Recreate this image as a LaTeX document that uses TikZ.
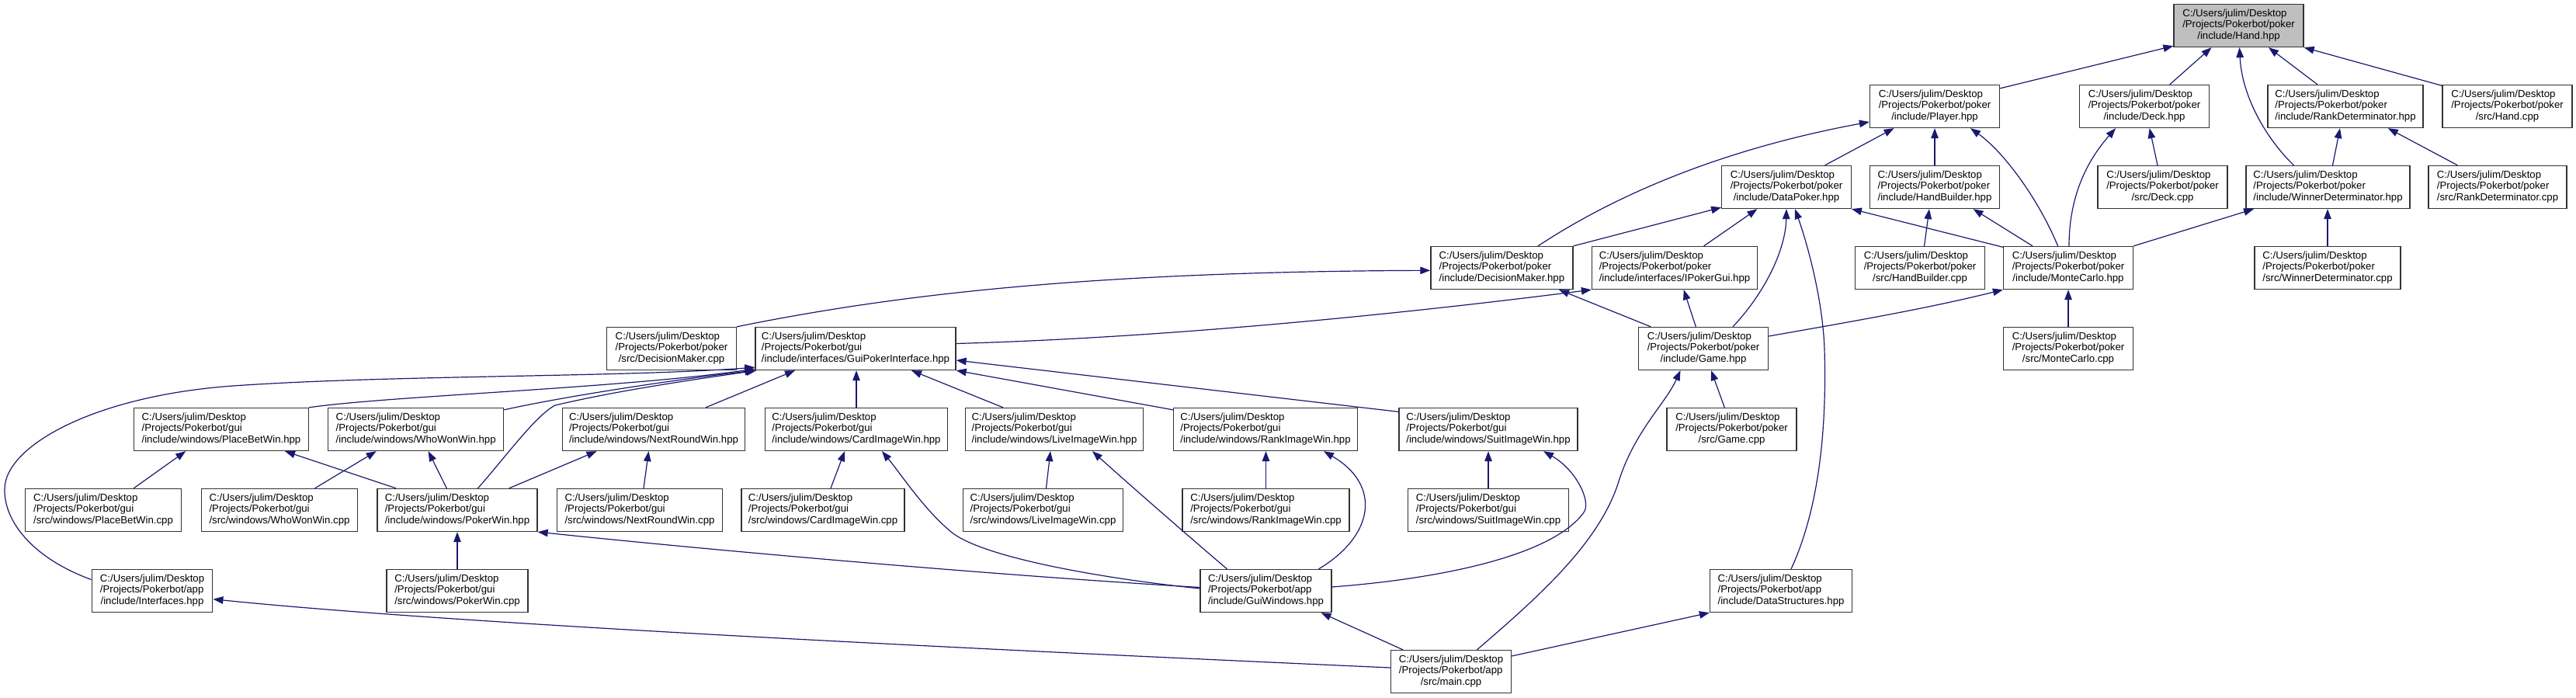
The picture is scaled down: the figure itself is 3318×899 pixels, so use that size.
\documentclass[tikz,border=0pt]{standalone}
\usepackage{fontspec}
\setmainfont{Liberation Sans}
\usetikzlibrary{arrows.meta,calc}
\definecolor{edgec}{HTML}{191970}
\definecolor{handgray}{HTML}{BFBFBF}
\newcommand{\lbfont}{\fontsize{13.2}{14.7}\selectfont}
\newcommand{\lb}[2]{\begin{tabular}{@{}l@{}}C:/Users/julim/Desktop\\/Projects/Pokerbot/#1\\\multicolumn{1}{@{}c@{}}{#2}\end{tabular}}
\tikzset{
  filebox/.style={draw=black!80, line width=1.3pt, fill=white, inner xsep=4pt, inner ysep=0pt, minimum height=55pt, minimum width=#1, font=\lbfont},
  dep/.style={draw=edgec, line width=1.2pt, -{Triangle[length=13pt,width=9.5pt]}}
}
\begin{document}
\begin{tikzpicture}[x=1pt,y=-1pt]
\useasboundingbox (0,0) rectangle (3318,899);
% rank 0
\node[filebox=167pt, fill=handgray] (hand) at (2883.5,33) {\lb{poker}{/include/Hand.hpp}};
% rank 1
\node[filebox=167pt] (player) at (2492,137) {\lb{poker}{/include/Player.hpp}};
\node[filebox=167pt] (deck) at (2762,137) {\lb{poker}{/include/Deck.hpp}};
\node[filebox=200pt] (rankdet) at (3021,137) {\lb{poker}{/include/RankDeterminator.hpp}};
\node[filebox=167pt] (handcpp) at (3229.5,137) {\lb{poker}{/src/Hand.cpp}};
% rank 2
\node[filebox=166.5pt] (datapoker) at (2301,241) {\lb{poker}{/include/DataPoker.hpp}};
\node[filebox=167pt] (handbuilder) at (2492,241) {\lb{poker}{/include/HandBuilder.hpp}};
\node[filebox=167pt] (deckcpp) at (2785.5,241) {\lb{poker}{/src/Deck.cpp}};
\node[filebox=211pt] (winnerdet) at (2998.5,241) {\lb{poker}{/include/WinnerDeterminator.hpp}};
\node[filebox=178pt] (rankdetcpp) at (3217,241) {\lb{poker}{/src/RankDeterminator.cpp}};
% rank 3
\node[filebox=183pt] (decisionmaker) at (1934.4,345) {\lb{poker}{/include/DecisionMaker.hpp}};
\node[filebox=213pt] (ipokergui) at (2157,345) {\lb{poker}{/include/interfaces/IPokerGui.hpp}};
\node[filebox=167pt] (handbuildercpp) at (2473,345) {\lb{poker}{/src/HandBuilder.cpp}};
\node[filebox=167pt] (montecarlo) at (2664,345) {\lb{poker}{/include/MonteCarlo.hpp}};
\node[filebox=188pt] (winnerdetcpp) at (2998,345) {\lb{poker}{/src/WinnerDeterminator.cpp}};
% rank 4
\node[filebox=166.5pt] (decisionmakercpp) at (865,449) {\lb{poker}{/src/DecisionMaker.cpp}};
\node[filebox=258pt] (gpi) at (1102,449) {\lb{gui}{/include/interfaces/GuiPokerInterface.hpp}};
\node[filebox=167pt] (game) at (2194,449) {\lb{poker}{/include/Game.hpp}};
\node[filebox=167pt] (montecarlocpp) at (2664,449) {\lb{poker}{/src/MonteCarlo.cpp}};
% rank 5
\node[filebox=224.5pt] (placebet) at (285,553) {\lb{gui}{/include/windows/PlaceBetWin.hpp}};
\node[filebox=226pt] (whowon) at (535.7,553) {\lb{gui}{/include/windows/WhoWonWin.hpp}};
\node[filebox=235pt] (nextround) at (842,553) {\lb{gui}{/include/windows/NextRoundWin.hpp}};
\node[filebox=235pt] (cardimg) at (1103,553) {\lb{gui}{/include/windows/CardImageWin.hpp}};
\node[filebox=229pt] (liveimg) at (1358,553) {\lb{gui}{/include/windows/LiveImageWin.hpp}};
\node[filebox=237pt] (rankimg) at (1630,553) {\lb{gui}{/include/windows/RankImageWin.hpp}};
\node[filebox=230pt] (suitimg) at (1917,553) {\lb{gui}{/include/windows/SuitImageWin.hpp}};
\node[filebox=167pt] (gamecpp) at (2230.5,553) {\lb{poker}{/src/Game.cpp}};
% rank 6
\node[filebox=201.5pt] (placebetcpp) at (133,657) {\lb{gui}{/src/windows/PlaceBetWin.cpp}};
\node[filebox=201.5pt] (whowoncpp) at (360,657) {\lb{gui}{/src/windows/WhoWonWin.cpp}};
\node[filebox=206pt] (pokerwin) at (589,657) {\lb{gui}{/include/windows/PokerWin.hpp}};
\node[filebox=212.5pt] (nextroundcpp) at (824,657) {\lb{gui}{/src/windows/NextRoundWin.cpp}};
\node[filebox=210pt] (cardimgcpp) at (1060,657) {\lb{gui}{/src/windows/CardImageWin.cpp}};
\node[filebox=206pt] (liveimgcpp) at (1343.5,657) {\lb{gui}{/src/windows/LiveImageWin.cpp}};
\node[filebox=215pt] (rankimgcpp) at (1630.5,657) {\lb{gui}{/src/windows/RankImageWin.cpp}};
\node[filebox=206.6pt] (suitimgcpp) at (1917,657) {\lb{gui}{/src/windows/SuitImageWin.cpp}};
% rank 7
\node[filebox=155.6pt] (interfaces) at (196,761) {\lb{app}{/include/Interfaces.hpp}};
\node[filebox=182pt] (pokerwincpp) at (589,761) {\lb{gui}{/src/windows/PokerWin.cpp}};
\node[filebox=169pt] (guiwindows) at (1630.5,761) {\lb{app}{/include/GuiWindows.hpp}};
\node[filebox=183pt] (datastructures) at (2294,761) {\lb{app}{/include/DataStructures.hpp}};
% rank 8
\node[filebox=155pt] (main) at (1869,865) {\lb{app}{/src/main.cpp}};

% edges into Hand.hpp
\draw[dep] ([yshift=-5pt]player.north east) -- ([yshift=2pt]hand.south west);
\draw[dep] ([xshift=32.7pt]deck.north) -- ([xshift=-35pt]hand.south);
\draw[dep] ([xshift=-44pt]winnerdet.north) .. controls (2925,185) and (2888,130) .. ([xshift=1pt]hand.south);
\draw[dep] ([xshift=-36pt]rankdet.north) -- ([xshift=38.5pt]hand.south);
\draw[dep] ([yshift=-1.5pt]handcpp.north west) -- (hand.south east);
% into Player.hpp
\draw[dep] ([xshift=46.6pt]decisionmaker.north) .. controls (2090,245) and (2230,190) .. ([yshift=-20pt]player.west);
\draw[dep] ([xshift=49.6pt]datapoker.north) -- ([xshift=-52.4pt]player.south);
\draw[dep] (handbuilder.north) -- (player.south);
\draw[dep] ([xshift=-13.4pt]montecarlo.north) .. controls (2625,255) and (2580,195) .. ([xshift=46pt]player.south);
% into Deck.hpp
\draw[dep] ([xshift=1pt]montecarlo.north) .. controls (2665,250) and (2690,205) .. ([xshift=-37pt]deck.south);
\draw[dep] ([xshift=-6.5pt]deckcpp.north) -- ([xshift=6.7pt]deck.south);
% into RankDeterminator.hpp
\draw[dep] ([xshift=6pt]winnerdet.north) -- ([xshift=-7pt]rankdet.south);
\draw[dep] ([xshift=-51.6pt]rankdetcpp.north) -- ([xshift=54.8pt]rankdet.south);
% into DataPoker.hpp
\draw[dep] (decisionmaker.north east) -- ([yshift=2pt]datapoker.south west);
\draw[dep] ([xshift=37.6pt]ipokergui.north) -- ([xshift=-37.6pt]datapoker.south);
\draw[dep] ([xshift=38pt]game.north) .. controls (2275,375) and (2300,320) .. (datapoker.south);
\draw[dep] ([yshift=-1.5pt]montecarlo.north west) -- (datapoker.south east);
\draw[dep] ([xshift=13pt]datastructures.north) .. controls (2350,640) and (2352,520) .. (2350,450) .. controls (2348,390) and (2330,320) .. ([xshift=11pt]datapoker.south);
% into HandBuilder.hpp
\draw[dep] ([xshift=5.5pt]handbuildercpp.north) -- ([xshift=-7pt]handbuilder.south);
\draw[dep] ([xshift=-46pt]montecarlo.north) -- ([xshift=49.5pt]handbuilder.south);
% into WinnerDeterminator.hpp
\draw[dep] (montecarlo.north east) -- ([xshift=10.7pt]winnerdet.south west);
\draw[dep] (winnerdetcpp.north) -- (winnerdetcpp.north |- winnerdet.south);
% into DecisionMaker.hpp
\draw[dep] (decisionmakercpp.north east) .. controls (1150,380) and (1400,350) .. ([yshift=-3.3pt]decisionmaker.west);
\draw[dep] ([xshift=-67.7pt]game.north) -- ([xshift=73.6pt]decisionmaker.south);
% into IPokerGui.hpp
\draw[dep] ([yshift=6.5pt]gpi.east) .. controls (1500,435) and (1800,405) .. (ipokergui.south west);
\draw[dep] ([xshift=-9.7pt]game.north) -- ([xshift=11.7pt]ipokergui.south);
% into MonteCarlo.hpp
\draw[dep] ([yshift=16pt]game.east) .. controls (2380,415) and (2480,398) .. (montecarlo.south west);
\draw[dep] (montecarlocpp.north) -- (montecarlo.south);
% into Game.hpp
\draw[dep] ([xshift=-9.2pt]gamecpp.north) -- ([xshift=10pt]game.south);
\draw[dep] ([xshift=33.5pt]main.north) .. controls (1980,770) and (2060,700) .. (2085,620) .. controls (2105,556) and (2145,520) .. ([xshift=-29.5pt]game.south);
% into GuiPokerInterface.hpp
\draw[dep] ([yshift=14.5pt]interfaces.west) .. controls (40,718) and (5,670) .. (6,630) .. controls (6,575) and (120,510) .. (300,497) .. controls (500,483) and (800,486) .. ([yshift=4pt]gpi.south west);
\draw[dep] (placebet.north east) .. controls (500,510) and (800,500) .. ([yshift=2pt]gpi.south west);
\draw[dep] ([yshift=-3pt]whowon.north east) .. controls (720,512) and (860,490) .. (gpi.south west);
\draw[dep] ([xshift=26.5pt]pokerwin.north) .. controls (650,590) and (690,535) .. (715,522) .. controls (800,502) and (900,488) .. ([xshift=2pt]gpi.south west);
\draw[dep] ([xshift=67pt]nextround.north) -- ([xshift=-78pt]gpi.south);
\draw[dep] (cardimg.north) -- (cardimg.north |- gpi.south);
\draw[dep] ([xshift=-66pt]liveimg.north) -- ([xshift=72pt]gpi.south);
\draw[dep] ([yshift=-3pt]rankimg.north west) -- (gpi.south east);
\draw[dep] ([yshift=-5.5pt]suitimg.north west) -- ([yshift=-15pt]gpi.east);
% into PlaceBetWin.hpp
\draw[dep] ([xshift=39.2pt]placebetcpp.north) -- ([xshift=-45.8pt]placebet.south);
\draw[dep] ([xshift=-79pt]pokerwin.north) -- ([xshift=82pt]placebet.south);
% into WhoWonWin.hpp
\draw[dep] ([xshift=45.6pt]whowoncpp.north) -- ([xshift=-51pt]whowon.south);
\draw[dep] ([xshift=-13.7pt]pokerwin.north) -- ([xshift=16pt]whowon.south);
% into NextRoundWin.hpp
\draw[dep] ([xshift=66.7pt]pokerwin.north) -- ([xshift=-73.5pt]nextround.south);
\draw[dep] ([xshift=5pt]nextroundcpp.north) -- ([xshift=-6.5pt]nextround.south);
% into PokerWin.hpp
\draw[dep] (pokerwincpp.north) -- (pokerwin.south);
\draw[dep] ([yshift=4.5pt]guiwindows.west) .. controls (1300,742) and (950,712) .. (pokerwin.south east);
% into CardImageWin.hpp
\draw[dep] ([xshift=10pt]cardimgcpp.north) -- ([xshift=-15pt]cardimg.south);
\draw[dep] ([yshift=3pt]guiwindows.west) .. controls (1420,745) and (1265,718) .. (1225,685) .. controls (1190,656) and (1160,610) .. ([xshift=33pt]cardimg.south);
% into LiveImageWin.hpp
\draw[dep] ([xshift=4pt]liveimgcpp.north) -- ([xshift=-5pt]liveimg.south);
\draw[dep] ([xshift=-50pt]guiwindows.north) .. controls (1530,690) and (1450,620) .. ([xshift=49pt]liveimg.south);
% into RankImageWin.hpp
\draw[dep] (rankimgcpp.north) -- (rankimgcpp.north |- rankimg.south);
\draw[dep] ([xshift=68pt]guiwindows.north) .. controls (1770,690) and (1780,625) .. ([xshift=75pt]rankimg.south);
% into SuitImageWin.hpp
\draw[dep] (suitimgcpp.north) -- (suitimg.south);
\draw[dep] ([yshift=5pt]guiwindows.east) .. controls (1860,745) and (2000,715) .. (2040,660) .. controls (2050,646) and (2030,605) .. ([xshift=71pt]suitimg.south);
% from main.cpp
\draw[dep] ([xshift=-62pt]main.north) -- ([xshift=71pt]guiwindows.south);
\draw[dep] ([yshift=5pt]main.west) .. controls (1300,838) and (600,805) .. ([yshift=-10.7pt]interfaces.east);
\draw[dep] ([yshift=20pt]main.east) -- (datastructures.south west);
\end{tikzpicture}
\end{document}
